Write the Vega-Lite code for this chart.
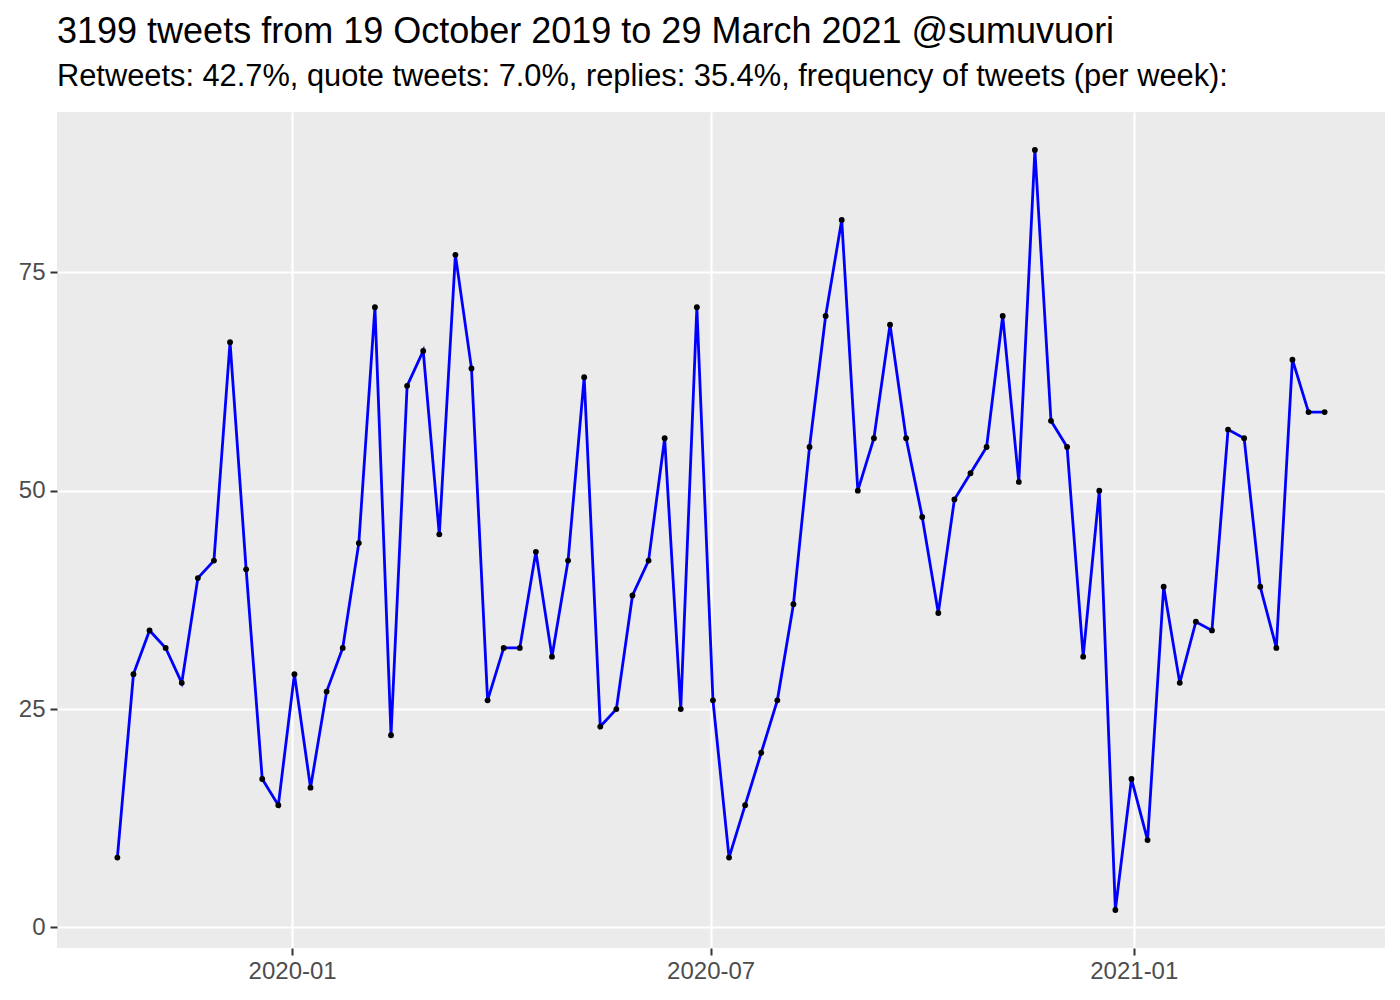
{
  "$schema": "https://vega.github.io/schema/vega-lite/v6.json",
  "width": 1328,
  "height": 836,
  "autosize": {"type": "none"},
  "padding": {"left": 57, "top": 112, "right": 15, "bottom": 52},
  "background": "white",
  "title": {
    "text": "3199 tweets from 19 October 2019 to 29 March 2021 @sumuvuori",
    "subtitle": "Retweets: 42.7%, quote tweets: 7.0%, replies: 35.4%, frequency of tweets (per week):",
    "anchor": "start",
    "frame": "group",
    "font": "Liberation Sans",
    "subtitleFont": "Liberation Sans",
    "fontSize": 36,
    "subtitleFontSize": 30.8,
    "fontWeight": "normal",
    "color": "black",
    "subtitleColor": "black",
    "offset": 19,
    "subtitlePadding": 11
  },
  "config": {
    "view": {"fill": "#EBEBEB", "stroke": null},
    "axis": {
      "domain": false,
      "tickColor": "#333333",
      "tickSize": 7,
      "tickWidth": 2,
      "labelColor": "#4D4D4D",
      "labelFont": "Liberation Sans",
      "labelFontSize": 24,
      "labelPadding": 4,
      "gridColor": "white",
      "gridWidth": 2.2,
      "title": null
    }
  },
  "data": {
    "values": [
      {"week": "2019-10-17", "n": 8},
      {"week": "2019-10-24", "n": 29},
      {"week": "2019-10-31", "n": 34},
      {"week": "2019-11-07", "n": 32},
      {"week": "2019-11-14", "n": 28},
      {"week": "2019-11-21", "n": 40},
      {"week": "2019-11-28", "n": 42},
      {"week": "2019-12-05", "n": 67},
      {"week": "2019-12-12", "n": 41},
      {"week": "2019-12-19", "n": 17},
      {"week": "2019-12-26", "n": 14},
      {"week": "2020-01-02", "n": 29},
      {"week": "2020-01-09", "n": 16},
      {"week": "2020-01-16", "n": 27},
      {"week": "2020-01-23", "n": 32},
      {"week": "2020-01-30", "n": 44},
      {"week": "2020-02-06", "n": 71},
      {"week": "2020-02-13", "n": 22},
      {"week": "2020-02-20", "n": 62},
      {"week": "2020-02-27", "n": 66},
      {"week": "2020-03-05", "n": 45},
      {"week": "2020-03-12", "n": 77},
      {"week": "2020-03-19", "n": 64},
      {"week": "2020-03-26", "n": 26},
      {"week": "2020-04-02", "n": 32},
      {"week": "2020-04-09", "n": 32},
      {"week": "2020-04-16", "n": 43},
      {"week": "2020-04-23", "n": 31},
      {"week": "2020-04-30", "n": 42},
      {"week": "2020-05-07", "n": 63},
      {"week": "2020-05-14", "n": 23},
      {"week": "2020-05-21", "n": 25},
      {"week": "2020-05-28", "n": 38},
      {"week": "2020-06-04", "n": 42},
      {"week": "2020-06-11", "n": 56},
      {"week": "2020-06-18", "n": 25},
      {"week": "2020-06-25", "n": 71},
      {"week": "2020-07-02", "n": 26},
      {"week": "2020-07-09", "n": 8},
      {"week": "2020-07-16", "n": 14},
      {"week": "2020-07-23", "n": 20},
      {"week": "2020-07-30", "n": 26},
      {"week": "2020-08-06", "n": 37},
      {"week": "2020-08-13", "n": 55},
      {"week": "2020-08-20", "n": 70},
      {"week": "2020-08-27", "n": 81},
      {"week": "2020-09-03", "n": 50},
      {"week": "2020-09-10", "n": 56},
      {"week": "2020-09-17", "n": 69},
      {"week": "2020-09-24", "n": 56},
      {"week": "2020-10-01", "n": 47},
      {"week": "2020-10-08", "n": 36},
      {"week": "2020-10-15", "n": 49},
      {"week": "2020-10-22", "n": 52},
      {"week": "2020-10-29", "n": 55},
      {"week": "2020-11-05", "n": 70},
      {"week": "2020-11-12", "n": 51},
      {"week": "2020-11-19", "n": 89},
      {"week": "2020-11-26", "n": 58},
      {"week": "2020-12-03", "n": 55},
      {"week": "2020-12-10", "n": 31},
      {"week": "2020-12-17", "n": 50},
      {"week": "2020-12-24", "n": 2},
      {"week": "2020-12-31", "n": 17},
      {"week": "2021-01-07", "n": 10},
      {"week": "2021-01-14", "n": 39},
      {"week": "2021-01-21", "n": 28},
      {"week": "2021-01-28", "n": 35},
      {"week": "2021-02-04", "n": 34},
      {"week": "2021-02-11", "n": 57},
      {"week": "2021-02-18", "n": 56},
      {"week": "2021-02-25", "n": 39},
      {"week": "2021-03-04", "n": 32},
      {"week": "2021-03-11", "n": 65},
      {"week": "2021-03-18", "n": 59},
      {"week": "2021-03-25", "n": 59}
    ]
  },
  "layer": [
    {
      "mark": {"type": "line", "color": "#0000FF", "strokeWidth": 2.8},
      "encoding": {
        "x": {
          "field": "week",
          "type": "temporal",
          "scale": {
            "type": "utc",
            "domain": [
              {"year": 2019, "month": 9, "date": 20, "hours": 18, "utc": true},
              {"year": 2021, "month": 4, "date": 20, "hours": 6, "utc": true}
            ]
          },
          "axis": {
            "orient": "bottom",
            "labelExpr": "utcFormat(datum.value, '%Y-%m')",
            "values": [
              {"year": 2020, "month": 1, "date": 1, "utc": true},
              {"year": 2020, "month": 7, "date": 1, "utc": true},
              {"year": 2021, "month": 1, "date": 1, "utc": true}
            ]
          }
        },
        "y": {
          "field": "n",
          "type": "quantitative",
          "scale": {"domain": [-2.35, 93.35], "nice": false, "zero": false},
          "axis": {"orient": "left", "values": [0, 25, 50, 75], "labelPadding": 5}
        }
      }
    },
    {
      "mark": {"type": "point", "filled": true, "color": "black", "size": 34, "opacity": 1},
      "encoding": {
        "x": {
          "field": "week",
          "type": "temporal",
          "axis": {
            "orient": "top",
            "labels": false,
            "ticks": false,
            "gridWidth": 1.1,
            "values": [
              {"year": 2019, "month": 10, "date": 1, "utc": true},
              {"year": 2020, "month": 4, "date": 1, "utc": true},
              {"year": 2020, "month": 10, "date": 1, "utc": true},
              {"year": 2021, "month": 4, "date": 1, "utc": true}
            ]
          }
        },
        "y": {
          "field": "n",
          "type": "quantitative",
          "axis": {
            "orient": "right",
            "labels": false,
            "ticks": false,
            "gridWidth": 1.1,
            "values": [12.5, 37.5, 62.5, 87.5]
          }
        }
      }
    }
  ],
  "resolve": {"axis": {"x": "independent", "y": "independent"}}
}
